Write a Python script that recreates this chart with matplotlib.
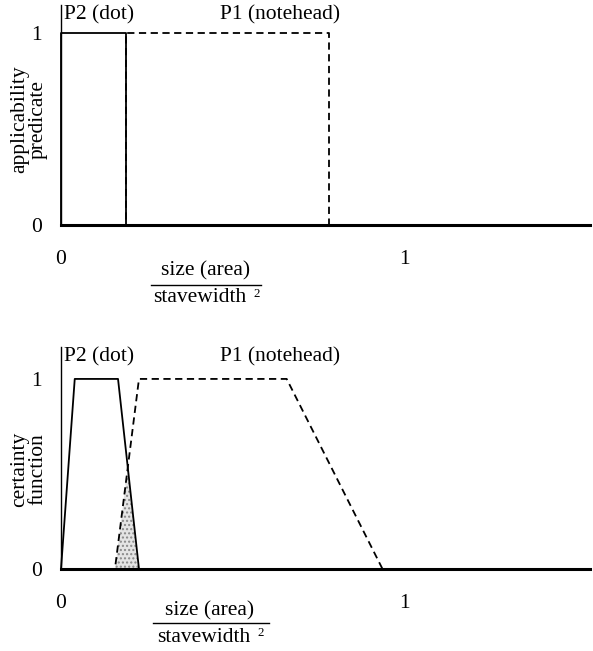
import matplotlib
matplotlib.use("Agg")
import matplotlib.pyplot as plt
import numpy as np

# data
x_max = 1.54
top_p2_x = [0, 0, 0.19, 0.19, 1.54]
top_p2_y = [0, 1, 1, 0, 0]
top_p1_x = [0, 0.19, 0.19, 0.78, 0.78, 1.54]
top_p1_y = [0, 0, 1, 1, 0, 0]

bot_p2_x = [0, 0.04, 0.166, 0.227, 1.54]
bot_p2_y = [0, 1, 1, 0, 0]
bot_p1_x = [0, 0.157, 0.227, 0.657, 0.936, 1.54]
bot_p1_y = [0, 0, 1, 1, 0, 0]

labels = ["P2 (dot)", "P1 (notehead)"]
label_x = [0.005, 0.30]
xtick_vals = [0, 1]
ytick_vals = [0, 1]
ylabels = ["applicability\npredicate", "certainty\nfunction"]

plt.rcParams['font.family'] = ['Liberation Serif', 'DejaVu Serif']
FS = 15.5

fig = plt.figure(figsize=(5.93, 6.51), dpi=100)
W, H = 593, 651

def make_ax(left_px, top_px, right_px, bottom_px):
    return fig.add_axes([left_px / W, 1 - bottom_px / H, (right_px - left_px) / W, (bottom_px - top_px) / H])

ax1 = make_ax(61, 5, 590, 225)
ax2 = make_ax(61, 347, 590, 569)

def style(ax, ymax, ylab, yl_y):
    ax.set_xlim(0, x_max)
    ax.set_ylim(0, ymax)
    for s in ['top', 'right']:
        ax.spines[s].set_visible(False)
    ax.spines['left'].set_linewidth(1.0)
    ax.spines['bottom'].set_linewidth(2.2)
    ax.set_xticks(xtick_vals)
    ax.set_xticklabels([str(v) for v in xtick_vals], fontsize=FS)
    ax.set_yticks(ytick_vals)
    ax.set_yticklabels([str(v) for v in ytick_vals], fontsize=FS)
    ax.tick_params(axis='x', length=0, pad=18)
    ax.tick_params(axis='y', length=0, pad=14)
    ax.text(-0.061, yl_y, ylab, transform=ax.transAxes, rotation=90,
            ha='center', va='center', fontsize=FS, linespacing=0.95)
    for lab, lx in zip(labels, label_x):
        ax.text(lx, 1.0, lab, transform=ax.transAxes, ha='left', va='top', fontsize=FS)

dash = (0, (4, 2.5))

style(ax1, 1.146, ylabels[0], 0.48)
ax1.plot(top_p1_x, top_p1_y, color='black', lw=1.3, linestyle=dash, clip_on=False)
ax1.plot(top_p2_x, top_p2_y, color='black', lw=1.3, clip_on=False)

style(ax2, 1.168, ylabels[1], 0.45)
xx = np.linspace(0, x_max, 2000)
inter = np.minimum(np.interp(xx, bot_p2_x, bot_p2_y), np.interp(xx, bot_p1_x, bot_p1_y))
ax2.fill_between(xx, 0, inter, facecolor='#e4e4e4', edgecolor='#888888', hatch='....', linewidth=0)
ax2.plot(bot_p1_x, bot_p1_y, color='black', lw=1.3, linestyle=dash, clip_on=False)
ax2.plot(bot_p2_x, bot_p2_y, color='black', lw=1.3, clip_on=False)

def frac(cx, y_num, y_line, y_den, x0, x1):
    fig.text(cx / W, 1 - y_num / H, "size (area)", ha='center', va='center', fontsize=FS)
    fig.add_artist(plt.Line2D([x0 / W, x1 / W], [1 - y_line / H, 1 - y_line / H], color='black', lw=1.0))
    fig.text((cx - 6) / W, 1 - y_den / H, "stavewidth", ha='center', va='center', fontsize=FS)
    fig.text((cx + 47) / W, 1 - (y_den - 4) / H, "2", ha='left', va='center', fontsize=FS * 0.6)

frac(206, 271, 285, 298, 151, 261)
frac(210, 611, 623, 637, 153, 269)

fig.savefig("out.png", dpi=100)
